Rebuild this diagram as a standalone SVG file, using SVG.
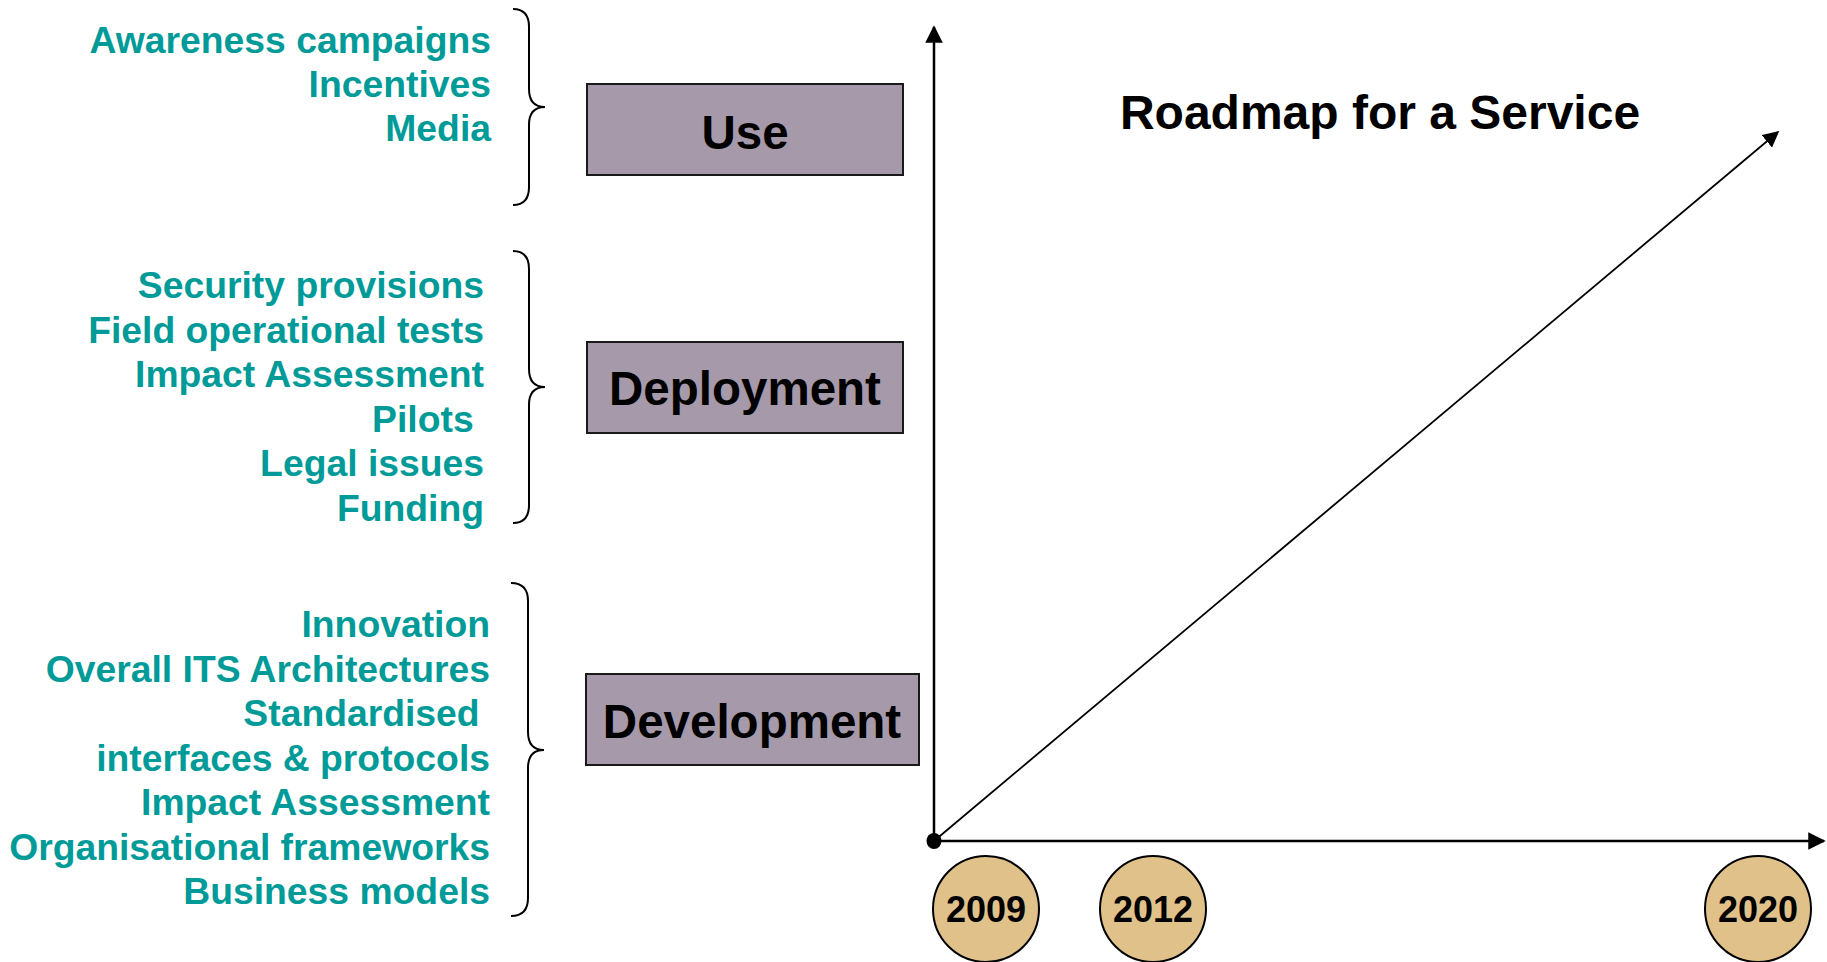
<svg xmlns="http://www.w3.org/2000/svg" width="1827" height="962" viewBox="0 0 1827 962">
<style>
.item{font-family:"Liberation Sans",Arial,sans-serif;font-weight:bold;font-size:37.3px;fill:#009B98;text-anchor:end}
.box{fill:#A699AA;stroke:#1a1a1a;stroke-width:2}
.boxlabel{font-family:"Liberation Sans",Arial,sans-serif;font-weight:bold;font-size:47.5px;fill:#000;text-anchor:middle}
.brace{fill:none;stroke:#000;stroke-width:2}
.year{fill:#E0C18A;stroke:#000;stroke-width:2}
.yeartext{font-family:"Liberation Sans",Arial,sans-serif;font-weight:bold;font-size:36px;fill:#000;text-anchor:middle}
.axis{stroke:#000;stroke-width:2.5;fill:none}
.diag{stroke:#000;stroke-width:1.8;fill:none}
</style>
<defs>
<marker id="ah" viewBox="0 0 10 10" refX="9" refY="5" markerWidth="7" markerHeight="7" markerUnits="strokeWidth" orient="auto">
<path d="M0,0 L10,5 L0,10 z" fill="#000"/>
</marker>
<marker id="ah2" viewBox="0 0 10 10" refX="9" refY="5" markerWidth="9" markerHeight="9" markerUnits="strokeWidth" orient="auto">
<path d="M0,0 L10,5 L0,10 z" fill="#000"/>
</marker>
</defs>

<g id="use-items">
<text class="item" x="491" y="53">Awareness campaigns</text>
<text class="item" x="491" y="97">Incentives</text>
<text class="item" x="491" y="141">Media</text>
<path class="brace" d="M513,9 Q529,9 529,27 L529,89 Q529,107 545,107 Q529,107 529,125 L529,187 Q529,205 513,205"/>
</g>

<g id="deployment-items">
<text class="item" x="484" y="298">Security provisions</text>
<text class="item" x="484" y="342.5">Field operational tests</text>
<text class="item" x="484" y="387">Impact Assessment</text>
<text class="item" x="484" y="431.5" xml:space="preserve">Pilots </text>
<text class="item" x="484" y="476">Legal issues</text>
<text class="item" x="484" y="520.5">Funding</text>
<path class="brace" d="M513,251 Q529,251 529,269 L529,369 Q529,387 545,387 Q529,387 529,405 L529,505 Q529,523 513,523"/>
</g>

<g id="development-items">
<text class="item" x="490" y="637">Innovation</text>
<text class="item" x="490" y="681.5">Overall ITS Architectures</text>
<text class="item" x="490" y="726" xml:space="preserve">Standardised </text>
<text class="item" x="490" y="770.5">interfaces &amp; protocols</text>
<text class="item" x="490" y="815">Impact Assessment</text>
<text class="item" x="490" y="859.5">Organisational frameworks</text>
<text class="item" x="490" y="904">Business models</text>
<path class="brace" d="M511,583 Q528,583 528,601 L528,732 Q528,750 544,750 Q528,750 528,768 L528,898 Q528,916 511,916"/>
</g>

<g id="use">
<rect class="box" x="587" y="84" width="316" height="91"/>
<text class="boxlabel" x="745" y="149">Use</text>
</g>

<g id="deployment">
<rect class="box" x="587" y="342" width="316" height="91"/>
<text class="boxlabel" x="745" y="405">Deployment</text>
</g>

<g id="development">
<rect class="box" x="586" y="674" width="333" height="91"/>
<text class="boxlabel" x="752" y="738">Development</text>
</g>

<g id="title">
<text x="1380" y="129" font-family="'Liberation Sans',Arial,sans-serif" font-weight="bold" font-size="48" text-anchor="middle" fill="#000">Roadmap for a Service</text>
</g>

<g id="connectors">
<line class="axis" x1="934" y1="841" x2="934" y2="27" marker-end="url(#ah)"/>
<line class="axis" x1="934" y1="841" x2="1824" y2="841" marker-end="url(#ah)"/>
<line class="diag" x1="934" y1="841" x2="1778" y2="132" marker-end="url(#ah2)"/>
<ellipse cx="934" cy="841" rx="7.5" ry="8" fill="#000"/>
</g>

<g id="y2009">
<ellipse class="year" cx="986" cy="909" rx="53" ry="53"/>
<text class="yeartext" x="986" y="922">2009</text>
</g>
<g id="y2012">
<ellipse class="year" cx="1153" cy="909" rx="53" ry="53"/>
<text class="yeartext" x="1153" y="922">2012</text>
</g>
<g id="y2020">
<ellipse class="year" cx="1758" cy="909" rx="53" ry="53"/>
<text class="yeartext" x="1758" y="922">2020</text>
</g>
</svg>
